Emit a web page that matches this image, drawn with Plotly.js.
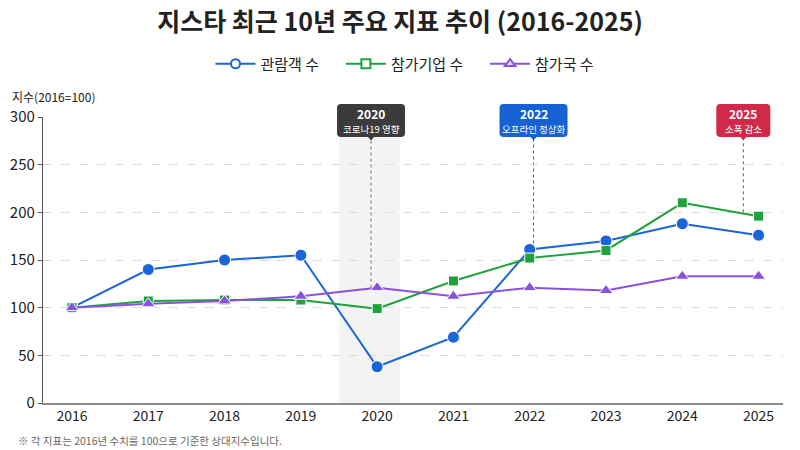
<!DOCTYPE html>
<html>
<head>
<meta charset="utf-8">
<script src="https://cdn.plot.ly/plotly-3.0.1.min.js"></script>
<style>html,body{margin:0;padding:0;background:#fff;}#chart{width:800px;height:450px;}</style>
</head>
<body>
<div id="chart"></div>
<script>
const years = ['2016','2017','2018','2019','2020','2021','2022','2023','2024','2025'];
const visitors = [100, 140, 150, 155, 38, 69, 161, 170, 188, 176];
const exhibitors = [100, 107, 108, 108, 99, 128, 152, 160, 210, 196];
const countries = [100, 104, 107, 112, 121, 112, 121, 118, 133, 133];
const seriesNames = ['관람객 수', '참가기업 수', '참가국 수'];
const yTicks = [0, 50, 100, 150, 200, 250, 300];
const noteYears = ['2020', '2022', '2025'];
const noteTexts = ['코로나19 영향', '오프라인 정상화', '소폭 감소'];

const FONT = '"Noto Sans CJK KR", "Noto Sans", sans-serif';
const BLUE = '#1a66d9', GREEN = '#1ea23c', PURPLE = '#8a52dc';
const NOTE_COLORS = ['#3b3b3b', '#1662d4', '#d1294a'];
const LINE_COLORS = ['#777777', BLUE, '#d1294a'];

// plot geometry (px)
const M = {l: 43, r: 17, t: 117, b: 47};
const W = 800, H = 450;
const PW = W - M.l - M.r, PH = H - M.t - M.b;
const XR = [-0.38, 9.32];
const px = x => (x - M.l) / PW;           // pixel x -> paper
const py = y => (H - M.b - y) / PH;       // pixel y -> paper
const idxToPx = i => M.l + PW * (i - XR[0]) / (XR[1] - XR[0]);
const PAD = '\u00a0\u00a0\u00a0\u00a0\u00a0';

function series(name, y, color, symbol, size) {
  return {
    x: years, y: y, name: name, type: 'scatter', mode: 'lines+markers',
    showlegend: false,
    line: {color: color, width: 2},
    marker: {color: color, symbol: symbol, size: size, line: {color: '#ffffff', width: 1}}
  };
}
function legendItem(name, color, symbol, fill) {
  return {
    x: [null], y: [null], name: name, type: 'scatter', mode: 'lines+markers',
    line: {color: color, width: 2},
    marker: {color: fill, symbol: symbol, size: 9, line: {color: color, width: 2}}
  };
}

const data = [
  series(seriesNames[0], visitors, BLUE, 'circle', 12),
  series(seriesNames[1], exhibitors, GREEN, 'square', 10),
  series(seriesNames[2], countries, PURPLE, 'triangle-up', 12),
  legendItem(seriesNames[0] + PAD, BLUE, 'circle', '#ffffff'),
  legendItem(seriesNames[1] + PAD, GREEN, 'square', '#ffffff'),
  legendItem(seriesNames[2], PURPLE, 'triangle-up', '#e6dafa')
];

// callout boxes
const noteIdx = [years.indexOf(noteYears[0]) - 0.08, years.indexOf(noteYears[1]) + 0.05, years.indexOf(noteYears[2]) - 0.2];
const noteWidths = [68, 68, 54];
const noteTargets = [countries[years.indexOf('2020')], visitors[years.indexOf('2022')], 200];
const BOX_TOP = 104, BOX_BOT = 137, R = 4;

function roundedBox(cx, w) {
  const x0 = cx - w / 2, x1 = cx + w / 2, y0 = BOX_TOP, y1 = BOX_BOT;
  const P = (x, y) => px(x).toFixed(5) + ',' + py(y).toFixed(5);
  return 'M' + P(x0 + R, y0) + ' L' + P(x1 - R, y0) + ' Q' + P(x1, y0) + ' ' + P(x1, y0 + R) +
    ' L' + P(x1, y1 - R) + ' Q' + P(x1, y1) + ' ' + P(x1 - R, y1) +
    ' L' + P(cx + 3, y1) + ' L' + P(cx, y1 + 3.5) + ' L' + P(cx - 3, y1) +
    ' L' + P(x0 + R, y1) + ' Q' + P(x0, y1) + ' ' + P(x0, y1 - R) +
    ' L' + P(x0, y0 + R) + ' Q' + P(x0, y0) + ' ' + P(x0 + R, y0) + ' Z';
}

const shapes = [
  {type: 'rect', xref: 'x', yref: 'paper', x0: years.indexOf('2020') - 0.5, x1: years.indexOf('2020') + 0.3, y0: 0, y1: 1,
   fillcolor: '#f3f3f3', line: {width: 0}, layer: 'below'}
];
const annotations = [];
const lineTop = (H - M.b - (BOX_BOT + 3)) / PH * 300;
noteYears.forEach((yr, k) => {
  const cx = idxToPx(noteIdx[k]);
  shapes.push({type: 'line', xref: 'x', yref: 'y', x0: noteIdx[k], x1: noteIdx[k], y0: noteTargets[k], y1: lineTop,
               line: {color: LINE_COLORS[k], width: 1, dash: 'dot'}, layer: 'below'});
  shapes.push({type: 'path', xref: 'paper', yref: 'paper', path: roundedBox(cx, noteWidths[k]),
               fillcolor: NOTE_COLORS[k], line: {width: 0}, layer: 'above'});
  annotations.push({xref: 'paper', yref: 'paper', x: px(cx), y: py(113.5), xanchor: 'center', yanchor: 'middle',
                    showarrow: false, text: '<b>' + yr + '</b>', font: {size: 12, color: '#ffffff', family: FONT}});
  annotations.push({xref: 'paper', yref: 'paper', x: px(cx), y: py(128.5), xanchor: 'center', yanchor: 'middle',
                    showarrow: false, text: noteTexts[k], font: {size: 9.5, color: '#ffffff', family: FONT}});
});
annotations.push({xref: 'paper', yref: 'paper', x: px(10), y: py(96), xanchor: 'left', yanchor: 'middle', showarrow: false,
                  text: '지수(2016=100)', font: {size: 12, color: '#222222', family: FONT}});
annotations.push({xref: 'paper', yref: 'paper', x: px(16), y: py(440), xanchor: 'left', yanchor: 'middle', showarrow: false,
                  text: '※ 각 지표는 2016년 수치를 100으로 기준한 상대지수입니다.', font: {size: 10.5, color: '#666666', family: FONT}});

const layout = {
  width: W, height: H,
  margin: M,
  paper_bgcolor: '#ffffff', plot_bgcolor: '#ffffff',
  font: {family: FONT, color: '#222222'},
  title: {text: '<b>지스타 최근 10년 주요 지표 추이 (2016-2025)</b>', x: 0.5, xanchor: 'center', y: 0.951, yanchor: 'middle',
          font: {size: 25, color: '#222222', family: FONT}},
  showlegend: true,
  legend: {orientation: 'h', x: px(405), xanchor: 'center', y: py(64), yanchor: 'middle',
           font: {size: 15, color: '#222222', family: FONT}, itemwidth: 40, traceorder: 'normal'},
  xaxis: {
    type: 'category', range: XR, fixedrange: true,
    showgrid: false, zeroline: false,
    showline: true, linecolor: '#8a8a8a', linewidth: 1.5,
    ticks: '', tickfont: {size: 14, color: '#222222'}
  },
  yaxis: {
    range: [0, 300], tickvals: yTicks, fixedrange: true,
    showgrid: true, gridcolor: '#dcdcdc', griddash: 'dash', gridwidth: 1,
    zeroline: false, showline: true, linecolor: '#555555', linewidth: 1.2,
    ticks: 'outside', ticklen: 4, tickcolor: '#555555',
    tickfont: {size: 15, color: '#222222'}
  },
  shapes: shapes,
  annotations: annotations
};

Plotly.newPlot('chart', data, layout, {displayModeBar: false, staticPlot: true});
</script>
</body>
</html>
